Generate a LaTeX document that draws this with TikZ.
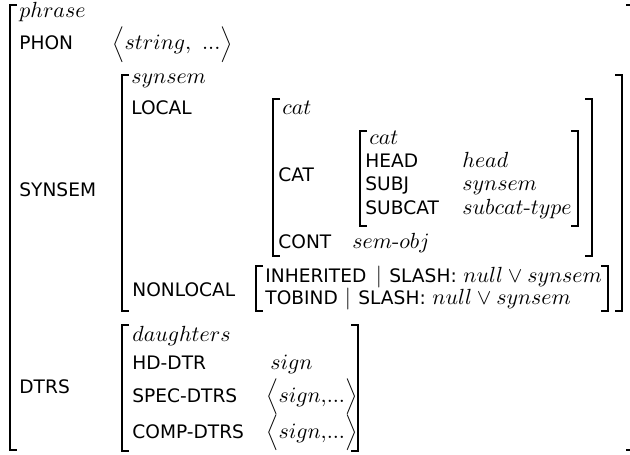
\documentclass[tikz,border=0pt]{standalone}
\usepackage{fontspec}
\setsansfont{DejaVu Sans}
\newcommand\labfont{\fontsize{9.3}{10}\selectfont\sffamily}
\newcommand\valfont{\fontsize{10.95}{12}\selectfont\rmfamily}
\newcommand\lbrk[3]{\draw[brk] (#1+7,#2) -- (#1,#2) -- (#1,#3) -- (#1+7,#3);}
\newcommand\rbrk[3]{\draw[brk] (#1-7,#2) -- (#1,#2) -- (#1,#3) -- (#1-7,#3);}
\tikzset{
  lab/.style={anchor=base west, inner sep=0pt, font=\labfont},
  val/.style={anchor=base west, inner sep=0pt, font=\valfont},
  bar/.style={anchor=base, inner sep=0pt, font=\valfont},
  brk/.style={line width=0.8pt, line cap=butt, line join=miter},
}
\begin{document}
\begin{tikzpicture}[x=0.5pt,y=-0.5pt]
\useasboundingbox (0,0) rectangle (630,454);
\fill[white] (0,0) rectangle (630,454);
% brackets
\lbrk{10}{5}{450}
\rbrk{633}{5}{450}
\lbrk{122}{75}{311}
\rbrk{622}{75}{311}
\lbrk{273}{99}{256}
\rbrk{592}{99}{256}
\lbrk{360}{131}{226}
\rbrk{578}{131}{226}
\lbrk{256}{266}{311}
\rbrk{608}{266}{311}
\lbrk{122}{325}{451}
\rbrk{358}{325}{451}
% outer
\node[val] (tphrase) at (19,18) {$phrase$};
\node[lab] (lphon) at (19,50) {PHON};
\node[val] (vphon) at (112,50) {$\Big\langle string,\ ...\Big\rangle$};
\node[lab] (lsynsem) at (19,196) {SYNSEM};
\node[lab] (ldtrs) at (19,393) {DTRS};
% synsem
\node[val] (tsynsem) at (131,84) {$synsem$};
\node[lab] (llocal) at (131,115) {LOCAL};
\node[val] (tcat) at (282,115) {$cat$};
\node[lab] (lcat) at (278,182) {CAT};
\node[val] (tcatb) at (369,145) {$cat$};
\node[lab] (lhead) at (365,168) {HEAD};
\node[val] (vhead) at (462,168) {$head$};
\node[lab] (lsubj) at (365,191) {SUBJ};
\node[val] (vsubj) at (462,191) {$synsem$};
\node[lab] (lsubcat) at (365,214) {SUBCAT};
\node[val] (vsubcat) at (462,214) {$subcat$\mbox{-}$type$};
\node[lab] (lcont) at (278,248) {CONT};
\node[val] (vcont) at (352,248) {$sem$\mbox{-}$obj$};
\node[lab] (lnonlocal) at (132,296) {NONLOCAL};
\node[lab] (linh) at (265,282) {INHERITED};
\node[bar] (binh) at (379,282) {$|$};
\node[lab] (sinh) at (389,282) {SLASH:};
\node[val] (vinh) at (463,282) {$null\vee synsem$};
\node[lab] (ltob) at (265,304) {TOBIND};
\node[bar] (btob) at (348,304) {$|$};
\node[lab] (stob) at (358,304) {SLASH:};
\node[val] (vtob) at (432,304) {$null\vee synsem$};
% daughters
\node[val] (tdtrs) at (132,341) {$daughters$};
\node[lab] (lhd) at (132,369) {HD-DTR};
\node[val] (vhd) at (270,369) {$sign$};
\node[lab] (lspec) at (132,402) {SPEC-DTRS};
\node[val] (vspec) at (266,402) {$\Big\langle sign{,}...\Big\rangle$};
\node[lab] (lcomp) at (132,438) {COMP-DTRS};
\node[val] (vcomp) at (266,438) {$\Big\langle sign{,}...\Big\rangle$};
\end{tikzpicture}
\end{document}
